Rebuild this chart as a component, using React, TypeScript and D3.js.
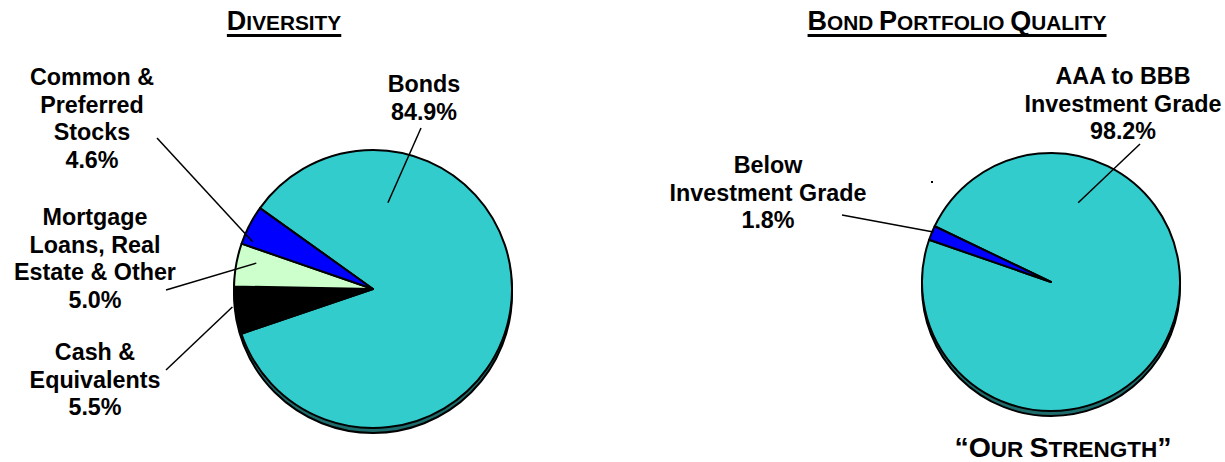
import React, { useEffect, useRef } from "react";
import * as d3 from "d3";

// ---- data ----
const diversityCategories = ["Bonds", "Cash & Equivalents", "Mortgage Loans, Real Estate & Other", "Common & Preferred Stocks"];
const diversityValues = [84.9, 5.5, 5.0, 4.6];
const diversityLabelLines = [
  ["Bonds", "84.9%"],
  ["Cash &", "Equivalents", "5.5%"],
  ["Mortgage", "Loans, Real", "Estate & Other", "5.0%"],
  ["Common &", "Preferred", "Stocks", "4.6%"],
];
const qualityCategories = ["AAA to BBB Investment Grade", "Below Investment Grade"];
const qualityValues = [98.2, 1.8];
const qualityLabelLines = [
  ["AAA to BBB", "Investment Grade", "98.2%"],
  ["Below", "Investment Grade", "1.8%"],
];

// ---- styles ----
const diversityColors = ["#33CCCC", "#000000", "#CCFFCC", "#0000FF"];
const qualityColors = ["#33CCCC", "#0000FF"];
const SHADOW = "#1E6B6B";
const FONT = "'Liberation Sans', Arial, Helvetica, sans-serif";

type PieSpec = {
  cx: number; cy: number; r: number; startDeg: number;
  values: number[]; colors: string[]; lines: string[][];
  labelPos: [number, number][];
  leaderFrom: [number, number][];
  leaderTo: [number, number][];
};

const pies: PieSpec[] = [
  {
    cx: 373, cy: 289, r: 139, startDeg: -54.4,
    values: diversityValues, colors: diversityColors, lines: diversityLabelLines,
    labelPos: [[424, 92], [95, 360], [95, 225], [92, 85]],
    leaderFrom: [[421, 128], [166, 370], [166, 290], [157, 138]],
    leaderTo: [[9.8, 0.63], [262.7, 1.02], [282.5, 0.86], [291.4, 0.93]],
  },
  {
    cx: 1051, cy: 282, r: 129, startDeg: -64.4,
    values: qualityValues, colors: qualityColors, lines: qualityLabelLines,
    labelPos: [[1123, 84], [768, 173]],
    leaderFrom: [[1140, 144], [842, 215]],
    leaderTo: [[18.9, 0.65], [293, 0.99]],
  },
];

const titles: { parts: [string, boolean][]; x: number; y: number; underline: boolean; big: number; small: number }[] = [
  { parts: [["D", true], ["IVERSITY", false]], x: 284, y: 30, underline: true, big: 27, small: 20.8 },
  { parts: [["B", true], ["OND ", false], ["P", true], ["ORTFOLIO ", false], ["Q", true], ["UALITY", false]], x: 957, y: 30, underline: true, big: 27, small: 20.8 },
  { parts: [["\u201CO", true], ["UR ", false], ["S", true], ["TRENGTH", false], ["\u201D", true]], x: 1063, y: 457, underline: false, big: 28.5, small: 22.5 },
];

export default function App() {
  const ref = useRef<SVGSVGElement>(null);
  useEffect(() => {
    const svg = d3.select(ref.current);
    svg.selectAll("*").remove();

    pies.forEach((p) => {
      const g = svg.append("g");
      g.append("ellipse")
        .attr("cx", p.cx).attr("cy", p.cy + 5).attr("rx", p.r).attr("ry", p.r)
        .attr("fill", SHADOW).attr("stroke", "#000").attr("stroke-width", 2);
      const pie = d3.pie<number>().sort(null)
        .startAngle((p.startDeg * Math.PI) / 180)
        .endAngle((p.startDeg * Math.PI) / 180 + 2 * Math.PI);
      const arc = d3.arc<d3.PieArcDatum<number>>().innerRadius(0).outerRadius(p.r);
      const arcs = pie(p.values);
      g.append("g").attr("transform", `translate(${p.cx},${p.cy})`)
        .selectAll("path").data(arcs).join("path")
        .attr("d", arc as any)
        .attr("fill", (_d, i) => p.colors[i])
        .attr("stroke", "#000").attr("stroke-width", 2).attr("stroke-linejoin", "round");

      p.leaderFrom.forEach((from, i) => {
        const [deg, frac] = p.leaderTo[i];
        const a = (deg * Math.PI) / 180;
        const x2 = p.cx + Math.sin(a) * p.r * frac;
        const y2 = p.cy - Math.cos(a) * p.r * frac;
        g.append("line").attr("x1", from[0]).attr("y1", from[1]).attr("x2", x2).attr("y2", y2)
          .attr("stroke", "#000").attr("stroke-width", 1.5);
      });

      p.lines.forEach((lines, i) => {
        const [x, y] = p.labelPos[i];
        const t = g.append("text").attr("text-anchor", "middle")
          .attr("font-family", FONT).attr("font-weight", "bold").attr("font-size", 23.3).attr("fill", "#000");
        lines.forEach((ln, j) => {
          t.append("tspan").attr("x", x).attr("y", y + j * 27.5).text(ln);
        });
      });
    });

    svg.append("rect").attr("x", 931).attr("y", 181).attr("width", 2).attr("height", 2).attr("fill", "#000");

    titles.forEach((tt) => {
      const t = svg.append("text").attr("text-anchor", "middle").attr("x", tt.x).attr("y", tt.y)
        .attr("font-family", FONT).attr("font-weight", "bold").attr("fill", "#000");
      tt.parts.forEach(([s, big]) => {
        t.append("tspan").attr("font-size", big ? tt.big : tt.small).text(s);
      });
      if (tt.underline) {
        const bb = (t.node() as SVGTextElement).getBBox();
        svg.append("rect").attr("x", bb.x).attr("y", tt.y + 4).attr("width", bb.width).attr("height", 3).attr("fill", "#000");
      }
    });
  }, []);
  return (
    <svg ref={ref} width={1225} height={462} style={{ position: "absolute", left: 0, top: 0, background: "#fff" }} />
  );
}
